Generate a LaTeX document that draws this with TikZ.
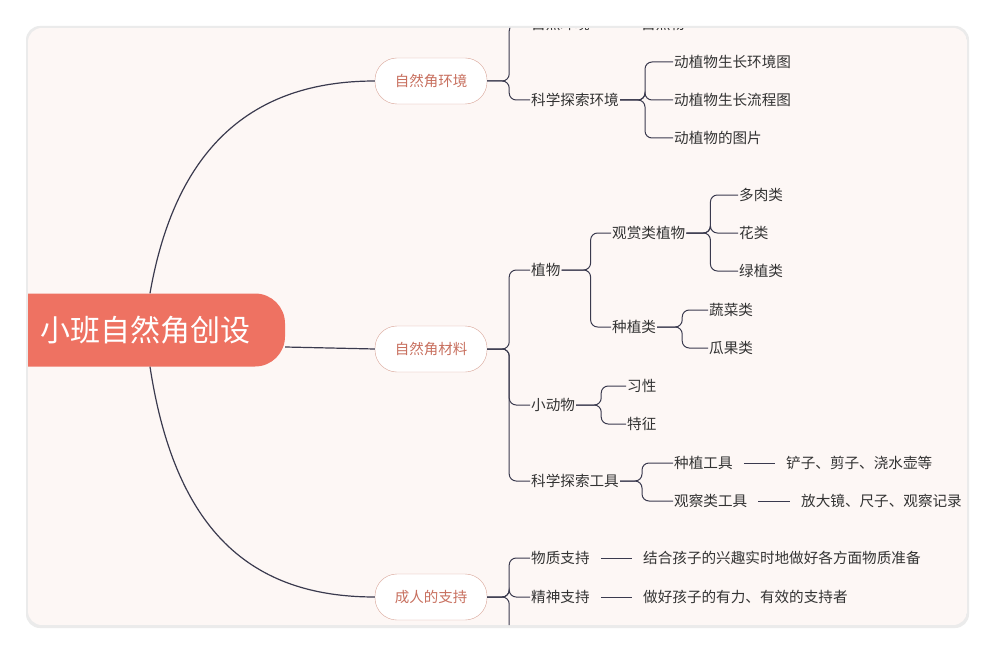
\documentclass[tikz,border=0pt]{standalone}
\usepackage{fontspec}
\newfontfamily\cjk{Noto Sans CJK SC}
\usetikzlibrary{positioning}
\definecolor{cardbg}{HTML}{FDF7F5}
\definecolor{rootred}{HTML}{EE7262}
\definecolor{pillline}{HTML}{D9A598}
\definecolor{pilltext}{HTML}{C8705F}
\definecolor{linedark}{HTML}{3A3A4E}
\definecolor{txt}{HTML}{333333}
\tikzset{
  leaf/.style={anchor=west, inner sep=1pt, text=txt, font=\cjk\fontsize{14.6}{16}\selectfont},
  pill/.style={draw=pillline, fill=white, rounded corners=22pt, minimum width=112pt, minimum height=46pt, text=pilltext, font=\cjk\fontsize{14.5}{17}\selectfont},
  branch/.style={draw=linedark, line width=1pt, rounded corners=7pt},
  link/.style={draw=linedark, line width=0.8pt}
}
\begin{document}
\begin{tikzpicture}[x=1pt,y=-1pt]
\useasboundingbox (0,0) rectangle (995,655);
\fill[white] (0,0) rectangle (995,655);
\fill[black!8, rounded corners=14pt] (26,26) rectangle (969,628);
\begin{scope}
\clip[rounded corners=14pt] (28,28) rectangle (967,625);
\fill[cardbg] (28,28) rectangle (967,625);
% root and main branches
\node[fill=rootred, rounded corners=30pt, minimum width=310pt, minimum height=73pt, text=white, font=\cjk\fontsize{30}{34}\selectfont] (root) at (130,330) {\hspace*{32pt}小班自然角创设};
\node[pill] (env) at (431,81) {自然角环境};
\node[pill] (mat) at (431,349) {自然角材料};
\node[pill] (adult) at (431,597) {成人的支持};
\draw[link, line width=1.2pt] ([xshift=20pt]root.north) .. controls (175,150) and (250,81) .. (env.west);
\draw[link, line width=1.2pt] ([xshift=20pt]root.south) .. controls (175,530) and (250,597) .. (adult.west);
\draw[link, line width=1.2pt] (root.east |- 0,347) -- (mat.west);
% environment
\node[leaf] (nat) at (530,24) {自然环境};
\node[leaf] (natobj) at (640,24) {自然物};
\node[leaf] (sci) at (530,100) {科学探索环境};
\node[leaf] (e1) at (673,62) {动植物生长环境图};
\node[leaf] (e2) at (673,100) {动植物生长流程图};
\node[leaf] (e3) at (673,138) {动植物的图片};
\foreach \c in {nat,sci} \draw[branch] (env.east) -- ++(22,0) |- (\c.west);
\draw[link] ([xshift=10pt]nat.east) -- ([xshift=-10pt]natobj.west);
\foreach \c in {e1,e2,e3} \draw[branch] (sci.east) -- ++(25,0) |- (\c.west);
% materials
\node[leaf] (plant) at (530,270) {植物};
\node[leaf] (animal) at (530,405) {小动物};
\node[leaf] (tools) at (530,481) {科学探索工具};
\foreach \c in {plant,animal,tools} \draw[branch] (mat.east) -- ++(22,0) |- (\c.west);
\node[leaf] (orn) at (611,233) {观赏类植物};
\node[leaf] (grow) at (611,327) {种植类};
\foreach \c in {orn,grow} \draw[branch] (plant.east) -- ++(29,0) |- (\c.west);
\node[leaf] (o1) at (738,195) {多肉类};
\node[leaf] (o2) at (738,233) {花类};
\node[leaf] (o3) at (738,271) {绿植类};
\foreach \c in {o1,o2,o3} \draw[branch] (orn.east) -- ++(24,0) |- (\c.west);
\node[leaf] (g1) at (708,310) {蔬菜类};
\node[leaf] (g2) at (708,348) {瓜果类};
\foreach \c in {g1,g2} \draw[branch] (grow.east) -- ++(25,0) |- (\c.west);
\node[leaf] (a1) at (626,386) {习性};
\node[leaf] (a2) at (626,424) {特征};
\foreach \c in {a1,a2} \draw[branch] (animal.east) -- ++(25,0) |- (\c.west);
\node[leaf] (t1) at (673,463) {种植工具};
\node[leaf] (t2) at (673,501) {观察类工具};
\foreach \c in {t1,t2} \draw[branch] (tools.east) -- ++(22,0) |- (\c.west);
\node[leaf] (t1x) at (785,463) {铲子、剪子、浇水壶等};
\node[leaf] (t2x) at (800,501) {放大镜、尺子、观察记录};
\draw[link] ([xshift=10pt]t1.east) -- ([xshift=-10pt]t1x.west);
\draw[link] ([xshift=10pt]t2.east) -- ([xshift=-10pt]t2x.west);
% adult support
\node[leaf] (mtr) at (530,558) {物质支持};
\node[leaf] (spr) at (530,597) {精神支持};
\coordinate (more) at (530,640);
\foreach \c in {mtr,spr,more} \draw[branch] (adult.east) -- ++(22,0) |- (\c);
\node[leaf] (mtrx) at (642,558) {结合孩子的兴趣实时地做好各方面物质准备};
\node[leaf] (sprx) at (642,597) {做好孩子的有力、有效的支持者};
\draw[link] ([xshift=10pt]mtr.east) -- ([xshift=-10pt]mtrx.west);
\draw[link] ([xshift=10pt]spr.east) -- ([xshift=-10pt]sprx.west);
\end{scope}
\end{tikzpicture}
\end{document}
